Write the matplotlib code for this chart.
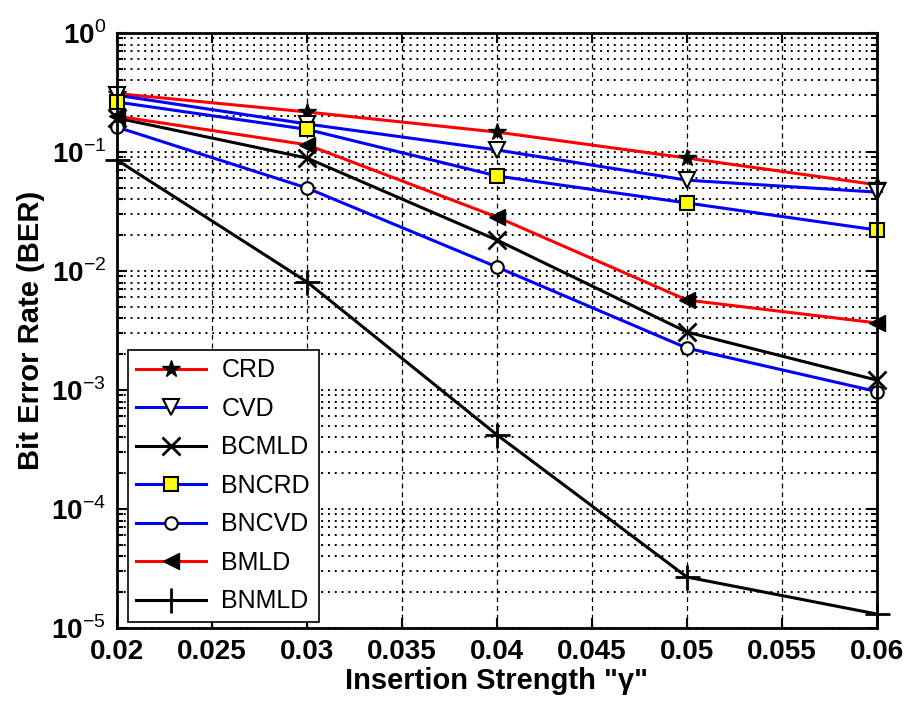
import math
import matplotlib
matplotlib.use('Agg')
import matplotlib.pyplot as plt
from matplotlib.ticker import LogLocator, FixedLocator, FuncFormatter

plt.rcParams['font.family'] = ['Liberation Sans', 'DejaVu Sans']
plt.rcParams['mathtext.fontset'] = 'custom'
plt.rcParams['mathtext.rm'] = 'Liberation Sans'
plt.rcParams['mathtext.bf'] = 'Liberation Sans:bold'

# insertion strength values
gamma = [0.02, 0.03, 0.04, 0.05, 0.06]

# BER values
crd = [0.31, 0.217, 0.147, 0.089, 0.053]
cvd = [0.30, 0.172, 0.104, 0.058, 0.046]
bcmld = [0.193, 0.089, 0.0182, 0.00307, 0.00121]
bncrd = [0.263, 0.155, 0.0629, 0.0373, 0.0221]
bncvd = [0.162, 0.0498, 0.0108, 0.00225, 0.00097]
bmld = [0.20, 0.115, 0.0284, 0.0057, 0.00366]
bnmld = [0.0857, 0.0081, 0.00042, 2.68e-5, 1.31e-5]

xticks = [0.02, 0.025, 0.03, 0.035, 0.04, 0.045, 0.05, 0.055, 0.06]
xticklabels = ['0.02', '0.025', '0.03', '0.035', '0.04', '0.045', '0.05', '0.055', '0.06']

fig = plt.figure(figsize=(9.14, 7.13), dpi=100)
ax = fig.add_axes([0.128, 0.1192, 0.8315, 0.8345])

lw = 2.2
ax.semilogy(gamma, crd, color='red', lw=lw, marker='*', ms=13,
            mfc='black', mec='black', label='CRD', clip_on=False)
ax.semilogy(gamma, cvd, color='blue', lw=lw, marker='v', ms=11,
            mfc='white', mec='black', mew=1.5, label='CVD', clip_on=False)
ax.semilogy(gamma, bcmld, color='black', lw=lw, marker='x', ms=13,
            mec='black', mew=2, label='BCMLD', clip_on=False)
ax.semilogy(gamma, bncrd, color='blue', lw=lw, marker='s', ms=10,
            mfc='yellow', mec='black', mew=1.5, label='BNCRD', clip_on=False)
ax.semilogy(gamma, bncvd, color='blue', lw=lw, marker='o', ms=9,
            mfc='white', mec='black', mew=1.5, label='BNCVD', clip_on=False)
ax.semilogy(gamma, bmld, color='red', lw=lw, marker='<', ms=12,
            mfc='black', mec='black', label='BMLD', clip_on=False)
ax.semilogy(gamma, bnmld, color='black', lw=lw, marker='+', ms=18,
            mec='black', mew=2, label='BNMLD', clip_on=False)

ax.set_xlim(0.02, 0.06)
ax.set_ylim(1e-5, 1)
ax.xaxis.set_major_locator(FixedLocator(xticks))
ax.set_xticklabels(xticklabels)
ax.yaxis.set_major_locator(LogLocator(base=10, numticks=10))
ax.yaxis.set_minor_locator(LogLocator(base=10, subs=range(2, 10), numticks=20))
ax.yaxis.set_minor_formatter(FuncFormatter(lambda v, p: ''))
ax.yaxis.set_major_formatter(FuncFormatter(
    lambda v, p: r'$\mathbf{10}^{%d}$' % round(math.log10(v))))

ax.grid(True, which='major', axis='x', color='black', ls=(0, (4, 3)), lw=0.9)
ax.grid(True, which='both', axis='y', color='black', ls=(0, (1, 2.5)), lw=1.4)

ax.tick_params(which='both', direction='in', top=True, right=True,
               labelsize=20, width=1.5, pad=8)
ax.tick_params(which='major', length=7)
ax.tick_params(which='minor', length=4)
for lbl in ax.get_xticklabels() + ax.get_yticklabels():
    lbl.set_fontweight('bold')
for sp in ax.spines.values():
    sp.set_linewidth(2)

ax.set_xlabel('Insertion Strength "\u03b3"', fontsize=21, fontweight='bold', labelpad=1)
ax.set_ylabel('Bit Error Rate (BER)', fontsize=21, fontweight='bold', labelpad=4)

leg = ax.legend(loc='lower left', bbox_to_anchor=(0.014, 0.01), borderaxespad=0,
                fontsize=18, handlelength=2.8, labelspacing=0.58, borderpad=0.35,
                handletextpad=0.6, fancybox=False, framealpha=1, edgecolor='black')
leg.get_frame().set_linewidth(1.2)

fig.savefig('out.png', dpi=100)
